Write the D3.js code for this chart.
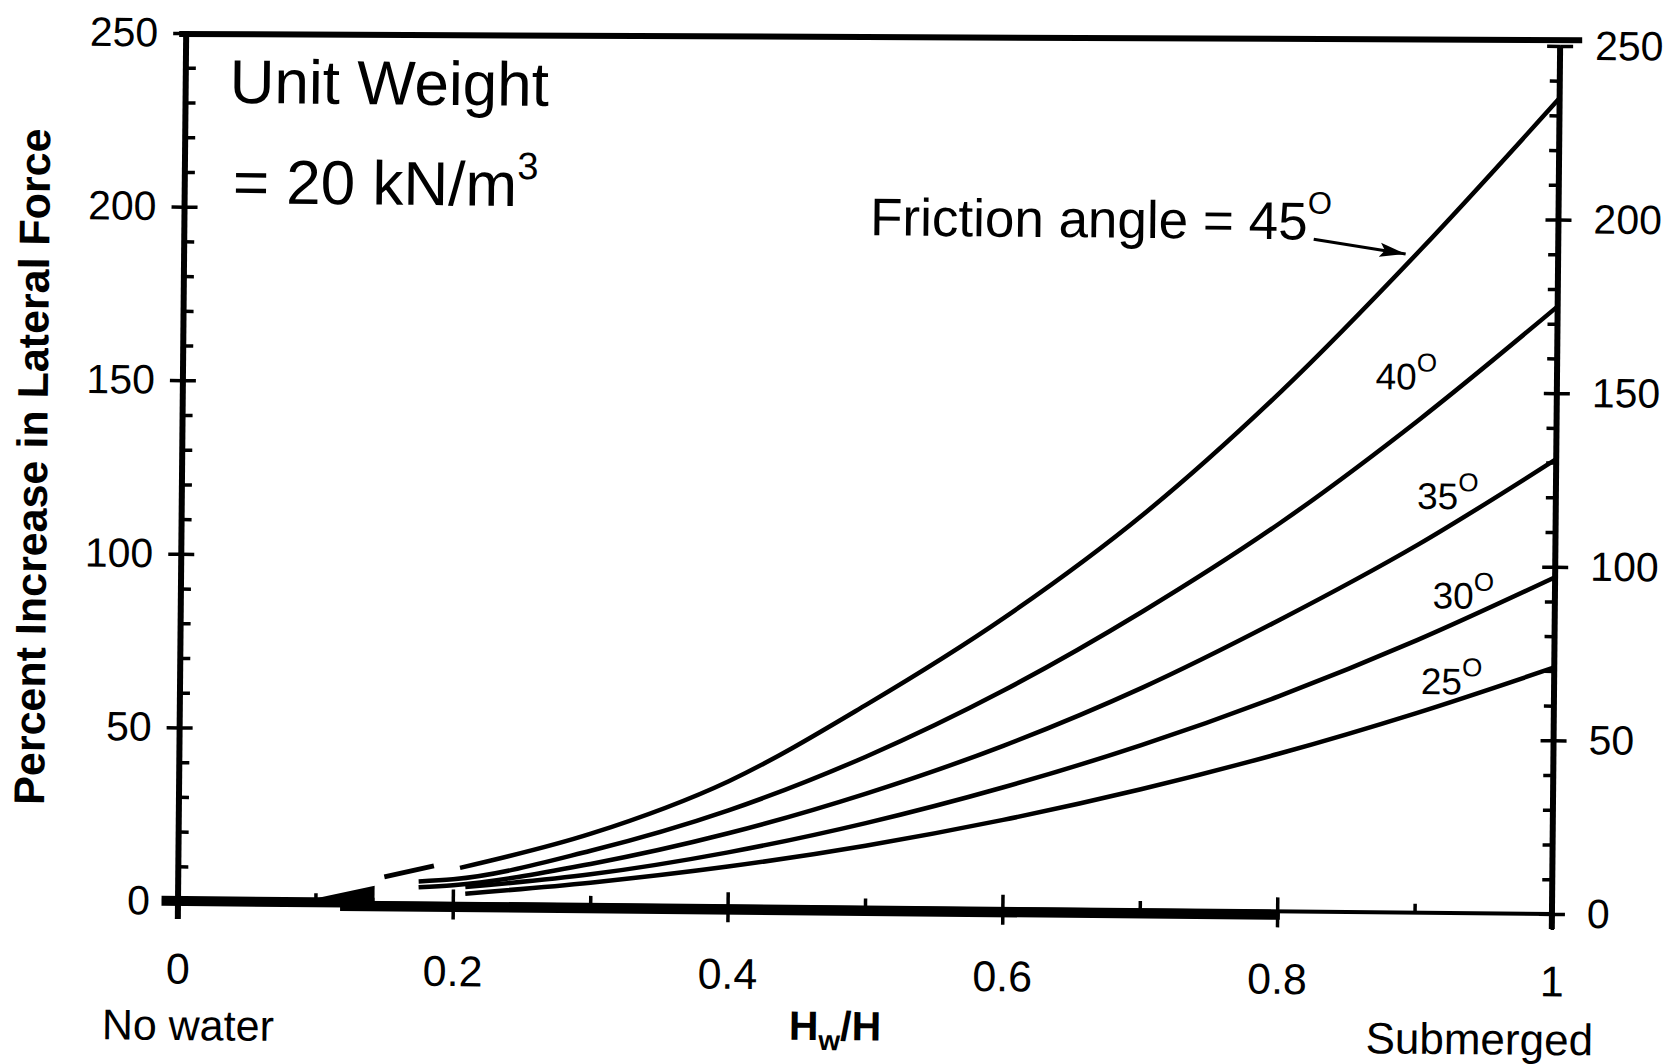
<!DOCTYPE html>
<html>
<head>
<meta charset="utf-8">
<script src="https://cdn.jsdelivr.net/npm/d3@7"></script>
<style>
body { margin: 0; background: #fff; }
svg text { font-family: "Liberation Sans", Arial, sans-serif; fill: #000; }
</style>
</head>
<body>
<div id="chart"></div>
<script>
// values (percent increase vs Hw/H)
const hwRatio = [0.2, 0.3, 0.4, 0.5, 0.6, 0.7, 0.8, 0.9, 1.0];
const inc45 = [9.4, 20.5, 36, 58.5, 84, 114, 150, 191, 235];
const inc40 = [7, 15.6, 27.6, 43.5, 63, 86, 112, 142, 175];
const inc35 = [5.3, 11.8, 21, 32.8, 47, 64, 84, 106, 131];
const inc30 = [4, 8.8, 15.5, 24.3, 35, 47.5, 62, 78.5, 97];
const inc25 = [2.9, 6.4, 11.4, 17.8, 25.6, 34.8, 45.4, 57.5, 71];
const angles = [45, 40, 35, 30, 25];
// where each curve begins near the bottom left
const startX = [0.205, 0.175, 0.175, 0.209, 0.209];
const startY = [10.3, 6.3, 4.6, 4.8, 2.9];
// loose dash of the 45 deg curve
const dashX = [0.150, 0.186];
const dashY = [7.5, 10.8];
// curves lying flat on zero (thick bars) and the small wedge
const flatFrom = [-0.012, 0.118];
const flatTo = [0.143, 0.802];
const flatLevel = [0, -1];
const wedgeX = [0.087, 0.143, 0.143];
const wedgeY = [0, 4.9, 0];

const xTicks = [0, 0.2, 0.4, 0.6, 0.8, 1];
const xTickLabels = ["0", "0.2", "0.4", "0.6", "0.8", "1"];
const xMinor = [0.1, 0.3, 0.5, 0.7, 0.9];
const yTicks = [0, 50, 100, 150, 200, 250];
const yMinor = [10, 20, 30, 40, 60, 70, 80, 90, 110, 120, 130, 140, 160, 170, 180, 190, 210, 220, 230, 240];

// curve labels
const labelAngles = [40, 35, 30, 25];
const labelX = [0.868, 0.899, 0.911, 0.903];
const labelY = [150.7, 116.3, 87.7, 63.0];

var W = 1374, H = 868;

var svg = d3.select("#chart").append("svg")
  .attr("width", 1673)
  .attr("height", 1064);

// the scan is tilted a little, so the whole plot is
var g = svg.append("g")
  .attr("transform", "rotate(0.54, 178, 901) translate(178, 33)");

var x = d3.scaleLinear().domain([0, 1]).range([0, W]);
var y = d3.scaleLinear().domain([0, 250]).range([H, 0]);

function styleAxis(sel, size) {
  sel.attr("font-size", size).attr("font-family", null);
  sel.select(".domain").remove();
  sel.selectAll("line").attr("stroke", "#000").attr("stroke-width", 3.5);
}

// left axis
var la = g.append("g").call(d3.axisLeft(y).tickValues(yTicks).tickSize(13).tickPadding(15));
styleAxis(la, 41);
var lb = g.append("g").call(d3.axisRight(y).tickValues(yTicks).tickSize(13).tickFormat(""));
styleAxis(lb, 41);
var lm = g.append("g").call(d3.axisRight(y).tickValues(yMinor).tickSize(10).tickFormat(""));
styleAxis(lm, 41);
g.append("line")
  .attr("x1", 0).attr("x2", 0)
  .attr("y1", y(250)).attr("y2", y(0) + 18)
  .attr("stroke", "#000").attr("stroke-width", 6);

// right axis
var ra = g.append("g").attr("transform", "translate(" + W + ",0)")
  .call(d3.axisRight(y).tickValues(yTicks).tickSize(13).tickPadding(22));
styleAxis(ra, 41);
var rb = g.append("g").attr("transform", "translate(" + W + ",0)")
  .call(d3.axisLeft(y).tickValues(yTicks).tickSize(13).tickFormat(""));
styleAxis(rb, 41);
var rm = g.append("g").attr("transform", "translate(" + W + ",0)")
  .call(d3.axisLeft(y).tickValues(yMinor).tickSize(10).tickFormat(""));
styleAxis(rm, 41);
g.append("line")
  .attr("x1", W).attr("x2", W)
  .attr("y1", y(250)).attr("y2", y(0) + 15)
  .attr("stroke", "#000").attr("stroke-width", 6);

// top border
g.append("line")
  .attr("x1", -7).attr("x2", W + 22)
  .attr("y1", y(250) + 1).attr("y2", y(250) - 6)
  .attr("stroke", "#000").attr("stroke-width", 6);

// bottom axis
var ba = g.append("g").attr("transform", "translate(0," + H + ")")
  .call(d3.axisBottom(x).tickValues(xTicks).tickSize(16).tickPadding(36)
    .tickFormat(function(d, i) { return xTickLabels[i]; }));
styleAxis(ba, 43);
var bt = g.append("g").attr("transform", "translate(0," + H + ")")
  .call(d3.axisTop(x).tickValues(xTicks).tickSize(14).tickFormat(""));
styleAxis(bt, 43);
var bm = g.append("g").attr("transform", "translate(0," + H + ")")
  .call(d3.axisTop(x).tickValues(xMinor).tickSize(9).tickFormat(""));
styleAxis(bm, 43);
g.append("line")
  .attr("x1", x(0)).attr("x2", x(1))
  .attr("y1", y(0)).attr("y2", y(0))
  .attr("stroke", "#000").attr("stroke-width", 4);

// flat parts of the curves on zero
flatFrom.forEach(function(f, i) {
  g.append("line")
    .attr("x1", x(f)).attr("x2", x(flatTo[i]))
    .attr("y1", y(flatLevel[i])).attr("y2", y(flatLevel[i]))
    .attr("stroke", "#000").attr("stroke-width", 10);
});
g.append("path")
  .attr("d", d3.line().x(function(d) { return x(d[0]); }).y(function(d) { return y(d[1]); })(d3.zip(wedgeX, wedgeY)) + "Z")
  .attr("fill", "#000");

// curves
var line = d3.line()
  .x(function(d) { return x(d[0]); })
  .y(function(d) { return y(d[1]); })
  .curve(d3.curveMonotoneX);

[inc45, inc40, inc35, inc30, inc25].forEach(function(vals, i) {
  var pts = [[startX[i], startY[i]]];
  hwRatio.forEach(function(h, j) {
    if (h > startX[i] + 0.01) pts.push([h, vals[j]]);
  });
  g.append("path")
    .datum(pts)
    .attr("class", "curve phi" + angles[i])
    .attr("d", line)
    .attr("fill", "none")
    .attr("stroke", "#000")
    .attr("stroke-width", 4.5);
});
g.append("path")
  .datum(d3.zip(dashX, dashY))
  .attr("d", d3.line().x(function(d) { return x(d[0]); }).y(function(d) { return y(d[1]); }))
  .attr("stroke", "#000")
  .attr("stroke-width", 5);

// curve labels
labelAngles.forEach(function(a, i) {
  var t = g.append("text")
    .attr("x", x(labelX[i]))
    .attr("y", y(labelY[i]))
    .attr("font-size", 37)
    .text(a);
  t.append("tspan").attr("font-size", 26).attr("dy", -18).text("O");
});

// friction angle annotation + arrow
svg.append("defs").append("marker")
  .attr("id", "arrow")
  .attr("markerUnits", "userSpaceOnUse")
  .attr("markerWidth", 28).attr("markerHeight", 16)
  .attr("refX", 26).attr("refY", 8)
  .attr("orient", "auto")
  .append("path")
  .attr("d", "M0,1 L26,8 L0,15 L5,8 Z")
  .attr("fill", "#000");

var ft = g.append("text")
  .attr("x", x(0.499))
  .attr("y", y(193.6))
  .attr("font-size", 53)
  .text("Friction angle = 45");
ft.append("tspan").attr("font-size", 31).attr("dy", -26).text("O");

g.append("line")
  .attr("x1", x(0.822)).attr("y1", y(193.7))
  .attr("x2", x(0.889)).attr("y2", y(189.7))
  .attr("stroke", "#000").attr("stroke-width", 3)
  .attr("marker-end", "url(#arrow)");

// unit weight note
g.append("text")
  .attr("x", x(0.032)).attr("y", y(230))
  .attr("font-size", 62)
  .text("Unit Weight");
var uw = g.append("text")
  .attr("x", x(0.035)).attr("y", y(201.1))
  .attr("font-size", 62)
  .text("= 20 kN/m");
uw.append("tspan").attr("font-size", 38).attr("dy", -27).text("3");

// axis titles
var xt = g.append("text")
  .attr("x", x(0.479)).attr("y", H + 133)
  .attr("text-anchor", "middle")
  .attr("font-size", 41)
  .attr("font-weight", "bold")
  .text("H");
xt.append("tspan").attr("font-size", 28).attr("dy", 10).text("w");
xt.append("tspan").attr("dy", -10).text("/H");

g.append("text")
  .attr("x", x(0.008)).attr("y", H + 139)
  .attr("text-anchor", "middle")
  .attr("font-size", 43)
  .text("No water");
g.append("text")
  .attr("x", x(0.948)).attr("y", H + 141)
  .attr("text-anchor", "middle")
  .attr("font-size", 44)
  .text("Submerged");

g.append("text")
  .attr("transform", "translate(-135," + (H / 2 + 1) + ") rotate(-90)")
  .attr("text-anchor", "middle")
  .attr("font-size", 43)
  .attr("font-weight", "bold")
  .text("Percent Increase in Lateral Force");
</script>
</body>
</html>
